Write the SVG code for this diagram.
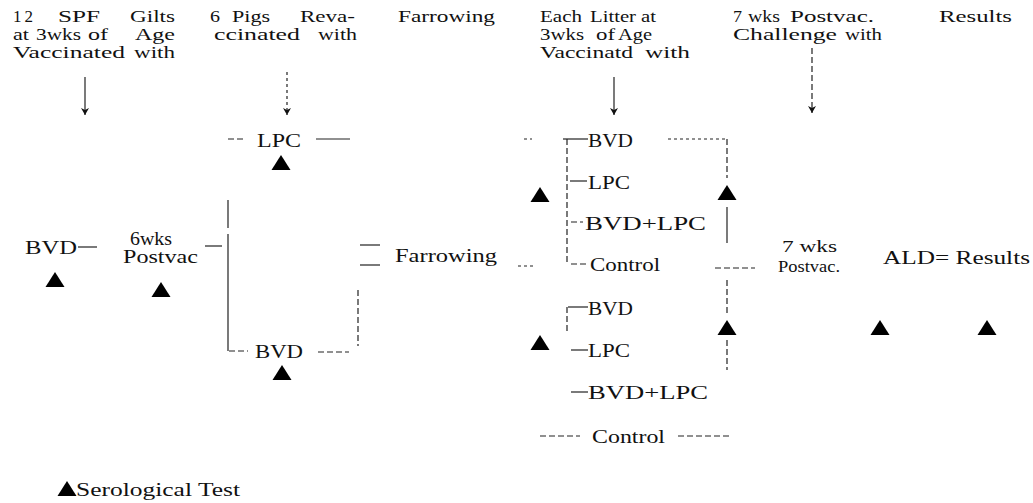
<svg xmlns="http://www.w3.org/2000/svg" width="1033" height="503" viewBox="0 0 1033 503">
  <style>
    text { font-family: "Liberation Serif", "Times New Roman", serif; font-size: 19px; fill: #111; }
    .hd { font-size: 17px; }
    .sm { font-size: 16px; }
    .md { font-size: 18px; }
    .ln { stroke: #222; stroke-width: 1.2; fill: none; }
    .dsh { stroke-dasharray: 6 3; }
    .dot { stroke-dasharray: 3 3; }
    .tri { fill: #000; }
  </style>
  <defs>
    <path id="tri" d="M0,-8 L9.5,7 L-9.5,7 Z"/>
    <marker id="arr" viewBox="0 0 10 10" refX="9" refY="5" markerWidth="10" markerHeight="10" markerUnits="userSpaceOnUse" orient="auto">
      <path d="M2,1 L9,5 L2,9 L4,5 Z" fill="#111"/>
    </marker>
  </defs>

  <!-- column headings, word by word to keep the justified spacing -->
  <g id="head-gilts">
    <text class="hd" x="13" y="22" textLength="20" lengthAdjust="spacing">12</text>
    <text class="hd" x="58" y="22" textLength="42" lengthAdjust="spacingAndGlyphs">SPF</text>
    <text class="hd" x="130" y="22" textLength="45" lengthAdjust="spacingAndGlyphs">Gilts</text>
    <text class="hd" x="13" y="40" textLength="16" lengthAdjust="spacingAndGlyphs">at</text>
    <text class="hd" x="36" y="40" textLength="45" lengthAdjust="spacingAndGlyphs">3wks</text>
    <text class="hd" x="88" y="40" textLength="20" lengthAdjust="spacingAndGlyphs">of</text>
    <text class="hd" x="135" y="40" textLength="40" lengthAdjust="spacingAndGlyphs">Age</text>
    <text class="hd" x="13" y="58" textLength="112" lengthAdjust="spacingAndGlyphs">Vaccinated</text>
    <text class="hd" x="134" y="58" textLength="41" lengthAdjust="spacingAndGlyphs">with</text>
  </g>
  <g id="head-revacc">
    <text class="hd" x="210" y="22" textLength="10" lengthAdjust="spacingAndGlyphs">6</text>
    <text class="hd" x="232" y="22" textLength="38" lengthAdjust="spacingAndGlyphs">Pigs</text>
    <text class="hd" x="300" y="22" textLength="55" lengthAdjust="spacingAndGlyphs">Reva-</text>
    <text class="hd" x="214" y="40" textLength="86" lengthAdjust="spacingAndGlyphs">ccinated</text>
    <text class="hd" x="318" y="40" textLength="39" lengthAdjust="spacingAndGlyphs">with</text>
  </g>
  <g id="head-farrowing">
    <text class="hd" x="398" y="22" textLength="97" lengthAdjust="spacingAndGlyphs">Farrowing</text>
  </g>
  <g id="head-litter">
    <text class="hd" x="540" y="22" textLength="42" lengthAdjust="spacingAndGlyphs">Each</text>
    <text class="hd" x="590" y="22" textLength="46" lengthAdjust="spacingAndGlyphs">Litter</text>
    <text class="hd" x="641" y="22" textLength="15" lengthAdjust="spacingAndGlyphs">at</text>
    <text class="hd" x="540" y="40" textLength="44" lengthAdjust="spacingAndGlyphs">3wks</text>
    <text class="hd" x="596" y="40" textLength="19" lengthAdjust="spacingAndGlyphs">of</text>
    <text class="hd" x="618" y="40" textLength="34" lengthAdjust="spacingAndGlyphs">Age</text>
    <text class="hd" x="540" y="58" textLength="93" lengthAdjust="spacingAndGlyphs">Vaccinatd</text>
    <text class="hd" x="645" y="58" textLength="45" lengthAdjust="spacingAndGlyphs">with</text>
  </g>
  <g id="head-challenge">
    <text class="hd" x="733" y="22" textLength="9" lengthAdjust="spacingAndGlyphs">7</text>
    <text class="hd" x="748" y="22" textLength="32" lengthAdjust="spacingAndGlyphs">wks</text>
    <text class="hd" x="790" y="22" textLength="84" lengthAdjust="spacingAndGlyphs">Postvac.</text>
    <text class="hd" x="733" y="40" textLength="104" lengthAdjust="spacingAndGlyphs">Challenge</text>
    <text class="hd" x="845" y="40" textLength="37" lengthAdjust="spacingAndGlyphs">with</text>
  </g>
  <g id="head-results">
    <text class="hd" x="939" y="22" textLength="73" lengthAdjust="spacingAndGlyphs">Results</text>
  </g>

  <!-- groups and stages -->
  <g id="n-bvd-gilts">
    <text x="25" y="254" textLength="52" lengthAdjust="spacingAndGlyphs">BVD</text>
    <use href="#tri" class="tri" x="55" y="280"/>
  </g>
  <g id="n-6wks">
    <text class="md" x="130" y="245" textLength="42" lengthAdjust="spacingAndGlyphs">6wks</text>
    <text class="md" x="123" y="263" textLength="75" lengthAdjust="spacingAndGlyphs">Postvac</text>
    <use href="#tri" class="tri" x="161" y="290"/>
  </g>
  <g id="n-lpc-revacc">
    <text x="257" y="147" textLength="44" lengthAdjust="spacingAndGlyphs">LPC</text>
    <use href="#tri" class="tri" x="281" y="163"/>
  </g>
  <g id="n-bvd-revacc">
    <text x="255" y="358" textLength="48" lengthAdjust="spacingAndGlyphs">BVD</text>
    <use href="#tri" class="tri" x="282" y="373"/>
  </g>
  <g id="n-farrowing">
    <text x="395" y="262" textLength="102" lengthAdjust="spacingAndGlyphs">Farrowing</text>
  </g>
  <g id="n-litter-a">
    <text x="588" y="147" textLength="45" lengthAdjust="spacingAndGlyphs">BVD</text>
    <text x="588" y="189" textLength="42" lengthAdjust="spacingAndGlyphs">LPC</text>
    <text x="585" y="230" textLength="121" lengthAdjust="spacingAndGlyphs">BVD+LPC</text>
    <text x="590" y="271" textLength="70" lengthAdjust="spacingAndGlyphs">Control</text>
    <use href="#tri" class="tri" x="540" y="195"/>
  </g>
  <g id="n-litter-b">
    <text x="588" y="315" textLength="45" lengthAdjust="spacingAndGlyphs">BVD</text>
    <text x="588" y="357" textLength="42" lengthAdjust="spacingAndGlyphs">LPC</text>
    <text x="588" y="399" textLength="120" lengthAdjust="spacingAndGlyphs">BVD+LPC</text>
    <text x="592" y="443" textLength="73" lengthAdjust="spacingAndGlyphs">Control</text>
    <use href="#tri" class="tri" x="540" y="343"/>
  </g>
  <g id="n-challenge">
    <use href="#tri" class="tri" x="727" y="193"/>
    <use href="#tri" class="tri" x="727" y="328"/>
  </g>
  <g id="n-7wks">
    <text class="sm" x="782" y="252" textLength="55" lengthAdjust="spacingAndGlyphs">7 wks</text>
    <text class="sm" x="778" y="272" textLength="62" lengthAdjust="spacingAndGlyphs">Postvac.</text>
    <use href="#tri" class="tri" x="880" y="328"/>
  </g>
  <g id="n-results">
    <text x="883" y="264" textLength="147" lengthAdjust="spacingAndGlyphs">ALD= Results</text>
    <use href="#tri" class="tri" x="987" y="328"/>
  </g>
  <g id="legend">
    <use href="#tri" class="tri" x="67" y="489"/>
    <text x="76" y="496" textLength="164" lengthAdjust="spacingAndGlyphs">Serological Test</text>
  </g>

  <!-- connectors -->
  <g id="connectors">
    <!-- heading arrows -->
    <line class="ln" x1="85" y1="77" x2="85" y2="115" marker-end="url(#arr)"/>
    <line class="ln dot" x1="287" y1="72" x2="287" y2="115" marker-end="url(#arr)"/>
    <line class="ln" x1="614" y1="77" x2="614" y2="115" marker-end="url(#arr)"/>
    <line class="ln dsh" x1="812" y1="48" x2="812" y2="113" marker-end="url(#arr)"/>

    <!-- gilts to revaccination -->
    <line class="ln" x1="78" y1="247" x2="97" y2="247"/>
    <line class="ln" x1="205" y1="246" x2="222" y2="246"/>
    <path class="ln" d="M228,200 V228 M228,234 V351"/>
    <line class="ln dsh" x1="228" y1="139" x2="243" y2="139"/>
    <line class="ln" x1="316" y1="139" x2="350" y2="139"/>
    <line class="ln dsh" x1="229" y1="351" x2="248" y2="351"/>
    <line class="ln dsh" x1="318" y1="352" x2="349" y2="352"/>
    <line class="ln dsh" x1="358" y1="290" x2="358" y2="346"/>
    <line class="ln" x1="360" y1="245" x2="380" y2="245"/>
    <line class="ln" x1="360" y1="265" x2="380" y2="265"/>

    <!-- first litter group -->
    <line class="ln dot" x1="524" y1="139" x2="532" y2="139"/>
    <line class="ln" x1="563" y1="139" x2="588" y2="139"/>
    <line class="ln dsh" x1="567" y1="139" x2="567" y2="264"/>
    <line class="ln" x1="570" y1="181" x2="587" y2="181"/>
    <line class="ln dsh" x1="571" y1="222" x2="583" y2="222"/>
    <line class="ln dsh" x1="571" y1="264" x2="588" y2="264"/>
    <line class="ln dot" x1="518" y1="266" x2="536" y2="266"/>
    <line class="ln dot" x1="668" y1="139" x2="727" y2="139"/>
    <line class="ln dsh" x1="727" y1="139" x2="727" y2="178"/>
    <line class="ln" x1="727" y1="207" x2="727" y2="243"/>
    <line class="ln dsh" x1="715" y1="268" x2="755" y2="268"/>

    <!-- second litter group -->
    <line class="ln dsh" x1="567" y1="307" x2="567" y2="332"/>
    <line class="ln" x1="568" y1="307" x2="588" y2="307"/>
    <line class="ln" x1="571" y1="350" x2="588" y2="350"/>
    <line class="ln" x1="571" y1="392" x2="588" y2="392"/>
    <line class="ln dsh" x1="540" y1="436" x2="580" y2="436"/>
    <line class="ln dsh" x1="678" y1="436" x2="730" y2="436"/>
    <line class="ln dsh" x1="727" y1="280" x2="727" y2="314"/>
    <line class="ln dsh" x1="727" y1="340" x2="727" y2="370"/>
  </g>
</svg>
